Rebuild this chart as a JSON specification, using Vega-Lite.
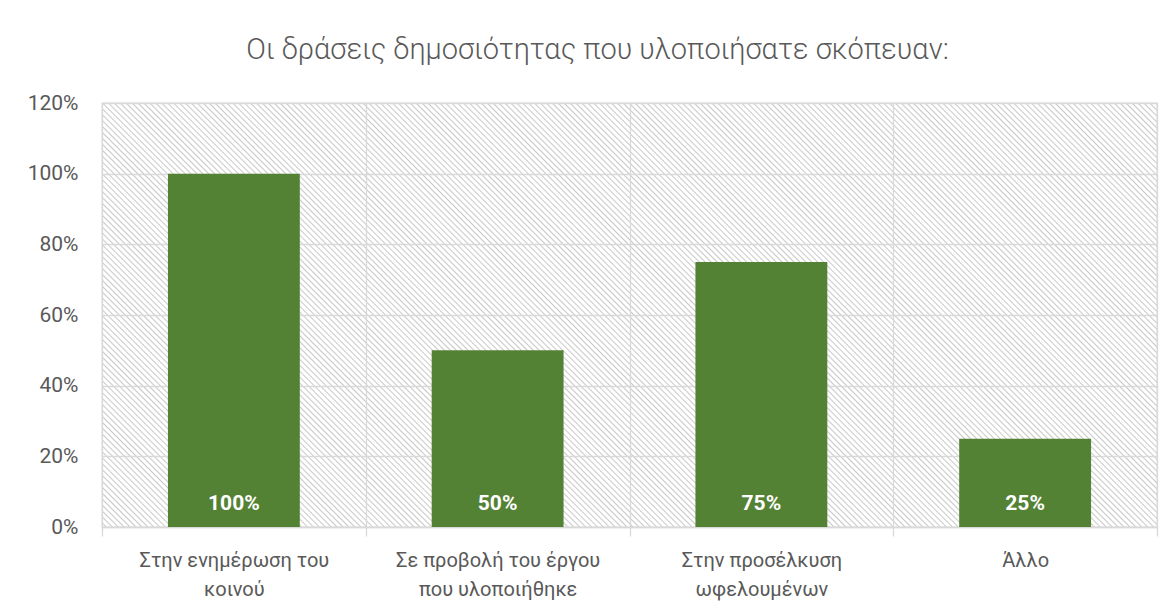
{
  "$schema": "https://vega.github.io/schema/vega-lite/v6.json",
  "width": 1055,
  "height": 424,
  "autosize": {"type": "none"},
  "padding": {"left": 102, "top": 103, "right": 16, "bottom": 85},
  "background": "white",
  "title": {
    "text": "Οι δράσεις δημοσιότητας που υλοποιήσατε σκόπευαν:",
    "font": "Roboto",
    "fontSize": 29,
    "fontWeight": 300,
    "color": "#595959",
    "anchor": "middle",
    "frame": "group",
    "dx": -32,
    "baseline": "alphabetic",
    "offset": 4
  },
  "data": {
    "values": [
      {"category": "Στην ενημέρωση του\nκοινού", "share": 1.0},
      {"category": "Σε προβολή του έργου\nπου υλοποιήθηκε", "share": 0.5},
      {"category": "Στην προσέλκυση\nωφελουμένων", "share": 0.75},
      {"category": "Άλλο", "share": 0.25}
    ]
  },
  "encoding": {
    "x": {
      "field": "category",
      "type": "nominal",
      "sort": null,
      "scale": {"padding": 0},
      "axis": {
        "title": null,
        "tickBand": "extent",
        "grid": true,
        "gridColor": "#d9d9d9",
        "gridWidth": 1.3,
        "domainColor": "#d9d9d9",
        "domainWidth": 1.3,
        "tickColor": "#d9d9d9",
        "tickWidth": 1.3,
        "tickSize": 9,
        "labelAngle": 0,
        "labelFont": "Roboto",
        "labelFontSize": 20,
        "labelColor": "#595959",
        "labelPadding": 14,
        "labelLimit": 0,
        "labelLineHeight": 29,
        "labelBaseline": "top",
        "labelExpr": "split(datum.label, '\\n')"
      }
    }
  },
  "layer": [
    {
      "mark": {"type": "bar", "color": "#548235", "width": {"band": 0.5}},
      "encoding": {
        "y": {
          "field": "share",
          "type": "quantitative",
          "scale": {"domain": [0, 1.2]},
          "axis": {
            "title": null,
            "values": [0, 0.2, 0.4, 0.6, 0.8, 1, 1.2],
            "format": ".0%",
            "domain": false,
            "ticks": false,
            "labelPadding": 24,
            "labelFont": "Roboto",
            "labelFontSize": 21,
            "labelColor": "#595959",
            "gridColor": "#d9d9d9",
            "gridWidth": 1.3
          }
        }
      }
    },
    {
      "mark": {
        "type": "text",
        "color": "#ffffff",
        "font": "Roboto",
        "fontWeight": "bold",
        "fontSize": 21,
        "baseline": "alphabetic",
        "dy": -17
      },
      "encoding": {
        "y": {"datum": 0, "type": "quantitative"},
        "text": {"field": "share", "type": "quantitative", "format": ".0%"}
      }
    }
  ],
  "config": {
    "view": {
      "stroke": "#d9d9d9",
      "strokeWidth": 1.3,
      "fill": {
        "gradient": "linear",
        "x1": 0, "y1": 1, "x2": 1.207, "y2": 0.5149,
        "stops": [
{"offset":0.000,"color":"#fff"},{"offset":0.002,"color":"#fff"},{"offset":0.003,"color":"#c9c9c9"},{"offset":0.004,"color":"#fff"},{"offset":0.006,"color":"#fff"},{"offset":0.007,"color":"#c9c9c9"},{"offset":0.008,"color":"#fff"},{"offset":0.010,"color":"#fff"},{"offset":0.011,"color":"#c9c9c9"},{"offset":0.012,"color":"#fff"},{"offset":0.014,"color":"#fff"},{"offset":0.015,"color":"#c9c9c9"},{"offset":0.016,"color":"#fff"},{"offset":0.018,"color":"#fff"},{"offset":0.019,"color":"#c9c9c9"},
{"offset":0.020,"color":"#fff"},{"offset":0.022,"color":"#fff"},{"offset":0.023,"color":"#c9c9c9"},{"offset":0.024,"color":"#fff"},{"offset":0.026,"color":"#fff"},{"offset":0.027,"color":"#c9c9c9"},{"offset":0.028,"color":"#fff"},{"offset":0.030,"color":"#fff"},{"offset":0.031,"color":"#c9c9c9"},{"offset":0.032,"color":"#fff"},{"offset":0.034,"color":"#fff"},{"offset":0.035,"color":"#c9c9c9"},{"offset":0.036,"color":"#fff"},{"offset":0.038,"color":"#fff"},{"offset":0.039,"color":"#c9c9c9"},
{"offset":0.040,"color":"#fff"},{"offset":0.042,"color":"#fff"},{"offset":0.043,"color":"#c9c9c9"},{"offset":0.044,"color":"#fff"},{"offset":0.046,"color":"#fff"},{"offset":0.047,"color":"#c9c9c9"},{"offset":0.048,"color":"#fff"},{"offset":0.050,"color":"#fff"},{"offset":0.051,"color":"#c9c9c9"},{"offset":0.052,"color":"#fff"},{"offset":0.054,"color":"#fff"},{"offset":0.055,"color":"#c9c9c9"},{"offset":0.056,"color":"#fff"},{"offset":0.058,"color":"#fff"},{"offset":0.059,"color":"#c9c9c9"},
{"offset":0.060,"color":"#fff"},{"offset":0.062,"color":"#fff"},{"offset":0.063,"color":"#c9c9c9"},{"offset":0.064,"color":"#fff"},{"offset":0.066,"color":"#fff"},{"offset":0.067,"color":"#c9c9c9"},{"offset":0.068,"color":"#fff"},{"offset":0.070,"color":"#fff"},{"offset":0.071,"color":"#c9c9c9"},{"offset":0.072,"color":"#fff"},{"offset":0.074,"color":"#fff"},{"offset":0.075,"color":"#c9c9c9"},{"offset":0.076,"color":"#fff"},{"offset":0.078,"color":"#fff"},{"offset":0.079,"color":"#c9c9c9"},
{"offset":0.080,"color":"#fff"},{"offset":0.082,"color":"#fff"},{"offset":0.083,"color":"#c9c9c9"},{"offset":0.084,"color":"#fff"},{"offset":0.086,"color":"#fff"},{"offset":0.087,"color":"#c9c9c9"},{"offset":0.088,"color":"#fff"},{"offset":0.090,"color":"#fff"},{"offset":0.091,"color":"#c9c9c9"},{"offset":0.092,"color":"#fff"},{"offset":0.094,"color":"#fff"},{"offset":0.095,"color":"#c9c9c9"},{"offset":0.096,"color":"#fff"},{"offset":0.098,"color":"#fff"},{"offset":0.099,"color":"#c9c9c9"},
{"offset":0.100,"color":"#fff"},{"offset":0.102,"color":"#fff"},{"offset":0.103,"color":"#c9c9c9"},{"offset":0.104,"color":"#fff"},{"offset":0.106,"color":"#fff"},{"offset":0.107,"color":"#c9c9c9"},{"offset":0.108,"color":"#fff"},{"offset":0.110,"color":"#fff"},{"offset":0.111,"color":"#c9c9c9"},{"offset":0.112,"color":"#fff"},{"offset":0.114,"color":"#fff"},{"offset":0.115,"color":"#c9c9c9"},{"offset":0.116,"color":"#fff"},{"offset":0.118,"color":"#fff"},{"offset":0.119,"color":"#c9c9c9"},
{"offset":0.120,"color":"#fff"},{"offset":0.122,"color":"#fff"},{"offset":0.123,"color":"#c9c9c9"},{"offset":0.124,"color":"#fff"},{"offset":0.126,"color":"#fff"},{"offset":0.127,"color":"#c9c9c9"},{"offset":0.128,"color":"#fff"},{"offset":0.130,"color":"#fff"},{"offset":0.131,"color":"#c9c9c9"},{"offset":0.132,"color":"#fff"},{"offset":0.134,"color":"#fff"},{"offset":0.135,"color":"#c9c9c9"},{"offset":0.136,"color":"#fff"},{"offset":0.138,"color":"#fff"},{"offset":0.139,"color":"#c9c9c9"},
{"offset":0.140,"color":"#fff"},{"offset":0.142,"color":"#fff"},{"offset":0.143,"color":"#c9c9c9"},{"offset":0.144,"color":"#fff"},{"offset":0.146,"color":"#fff"},{"offset":0.147,"color":"#c9c9c9"},{"offset":0.148,"color":"#fff"},{"offset":0.150,"color":"#fff"},{"offset":0.151,"color":"#c9c9c9"},{"offset":0.152,"color":"#fff"},{"offset":0.154,"color":"#fff"},{"offset":0.155,"color":"#c9c9c9"},{"offset":0.156,"color":"#fff"},{"offset":0.158,"color":"#fff"},{"offset":0.159,"color":"#c9c9c9"},
{"offset":0.160,"color":"#fff"},{"offset":0.162,"color":"#fff"},{"offset":0.163,"color":"#c9c9c9"},{"offset":0.164,"color":"#fff"},{"offset":0.166,"color":"#fff"},{"offset":0.167,"color":"#c9c9c9"},{"offset":0.168,"color":"#fff"},{"offset":0.170,"color":"#fff"},{"offset":0.171,"color":"#c9c9c9"},{"offset":0.172,"color":"#fff"},{"offset":0.174,"color":"#fff"},{"offset":0.175,"color":"#c9c9c9"},{"offset":0.176,"color":"#fff"},{"offset":0.178,"color":"#fff"},{"offset":0.179,"color":"#c9c9c9"},
{"offset":0.180,"color":"#fff"},{"offset":0.182,"color":"#fff"},{"offset":0.183,"color":"#c9c9c9"},{"offset":0.184,"color":"#fff"},{"offset":0.186,"color":"#fff"},{"offset":0.187,"color":"#c9c9c9"},{"offset":0.188,"color":"#fff"},{"offset":0.190,"color":"#fff"},{"offset":0.191,"color":"#c9c9c9"},{"offset":0.192,"color":"#fff"},{"offset":0.194,"color":"#fff"},{"offset":0.195,"color":"#c9c9c9"},{"offset":0.196,"color":"#fff"},{"offset":0.198,"color":"#fff"},{"offset":0.199,"color":"#c9c9c9"},
{"offset":0.200,"color":"#fff"},{"offset":0.202,"color":"#fff"},{"offset":0.203,"color":"#c9c9c9"},{"offset":0.204,"color":"#fff"},{"offset":0.206,"color":"#fff"},{"offset":0.207,"color":"#c9c9c9"},{"offset":0.208,"color":"#fff"},{"offset":0.210,"color":"#fff"},{"offset":0.211,"color":"#c9c9c9"},{"offset":0.212,"color":"#fff"},{"offset":0.214,"color":"#fff"},{"offset":0.215,"color":"#c9c9c9"},{"offset":0.216,"color":"#fff"},{"offset":0.218,"color":"#fff"},{"offset":0.219,"color":"#c9c9c9"},
{"offset":0.220,"color":"#fff"},{"offset":0.222,"color":"#fff"},{"offset":0.223,"color":"#c9c9c9"},{"offset":0.224,"color":"#fff"},{"offset":0.226,"color":"#fff"},{"offset":0.227,"color":"#c9c9c9"},{"offset":0.228,"color":"#fff"},{"offset":0.230,"color":"#fff"},{"offset":0.231,"color":"#c9c9c9"},{"offset":0.232,"color":"#fff"},{"offset":0.234,"color":"#fff"},{"offset":0.235,"color":"#c9c9c9"},{"offset":0.236,"color":"#fff"},{"offset":0.238,"color":"#fff"},{"offset":0.239,"color":"#c9c9c9"},
{"offset":0.240,"color":"#fff"},{"offset":0.242,"color":"#fff"},{"offset":0.243,"color":"#c9c9c9"},{"offset":0.244,"color":"#fff"},{"offset":0.246,"color":"#fff"},{"offset":0.247,"color":"#c9c9c9"},{"offset":0.248,"color":"#fff"},{"offset":0.250,"color":"#fff"},{"offset":0.251,"color":"#c9c9c9"},{"offset":0.252,"color":"#fff"},{"offset":0.254,"color":"#fff"},{"offset":0.255,"color":"#c9c9c9"},{"offset":0.256,"color":"#fff"},{"offset":0.258,"color":"#fff"},{"offset":0.259,"color":"#c9c9c9"},
{"offset":0.260,"color":"#fff"},{"offset":0.262,"color":"#fff"},{"offset":0.263,"color":"#c9c9c9"},{"offset":0.264,"color":"#fff"},{"offset":0.266,"color":"#fff"},{"offset":0.267,"color":"#c9c9c9"},{"offset":0.268,"color":"#fff"},{"offset":0.270,"color":"#fff"},{"offset":0.271,"color":"#c9c9c9"},{"offset":0.272,"color":"#fff"},{"offset":0.274,"color":"#fff"},{"offset":0.275,"color":"#c9c9c9"},{"offset":0.276,"color":"#fff"},{"offset":0.278,"color":"#fff"},{"offset":0.279,"color":"#c9c9c9"},
{"offset":0.280,"color":"#fff"},{"offset":0.282,"color":"#fff"},{"offset":0.283,"color":"#c9c9c9"},{"offset":0.284,"color":"#fff"},{"offset":0.286,"color":"#fff"},{"offset":0.287,"color":"#c9c9c9"},{"offset":0.288,"color":"#fff"},{"offset":0.290,"color":"#fff"},{"offset":0.291,"color":"#c9c9c9"},{"offset":0.292,"color":"#fff"},{"offset":0.294,"color":"#fff"},{"offset":0.295,"color":"#c9c9c9"},{"offset":0.296,"color":"#fff"},{"offset":0.298,"color":"#fff"},{"offset":0.299,"color":"#c9c9c9"},
{"offset":0.300,"color":"#fff"},{"offset":0.302,"color":"#fff"},{"offset":0.303,"color":"#c9c9c9"},{"offset":0.304,"color":"#fff"},{"offset":0.306,"color":"#fff"},{"offset":0.307,"color":"#c9c9c9"},{"offset":0.308,"color":"#fff"},{"offset":0.310,"color":"#fff"},{"offset":0.311,"color":"#c9c9c9"},{"offset":0.312,"color":"#fff"},{"offset":0.314,"color":"#fff"},{"offset":0.315,"color":"#c9c9c9"},{"offset":0.316,"color":"#fff"},{"offset":0.318,"color":"#fff"},{"offset":0.319,"color":"#c9c9c9"},
{"offset":0.320,"color":"#fff"},{"offset":0.322,"color":"#fff"},{"offset":0.323,"color":"#c9c9c9"},{"offset":0.324,"color":"#fff"},{"offset":0.326,"color":"#fff"},{"offset":0.327,"color":"#c9c9c9"},{"offset":0.328,"color":"#fff"},{"offset":0.330,"color":"#fff"},{"offset":0.331,"color":"#c9c9c9"},{"offset":0.332,"color":"#fff"},{"offset":0.334,"color":"#fff"},{"offset":0.335,"color":"#c9c9c9"},{"offset":0.336,"color":"#fff"},{"offset":0.338,"color":"#fff"},{"offset":0.339,"color":"#c9c9c9"},
{"offset":0.340,"color":"#fff"},{"offset":0.342,"color":"#fff"},{"offset":0.343,"color":"#c9c9c9"},{"offset":0.344,"color":"#fff"},{"offset":0.346,"color":"#fff"},{"offset":0.347,"color":"#c9c9c9"},{"offset":0.348,"color":"#fff"},{"offset":0.350,"color":"#fff"},{"offset":0.351,"color":"#c9c9c9"},{"offset":0.352,"color":"#fff"},{"offset":0.354,"color":"#fff"},{"offset":0.355,"color":"#c9c9c9"},{"offset":0.356,"color":"#fff"},{"offset":0.358,"color":"#fff"},{"offset":0.359,"color":"#c9c9c9"},
{"offset":0.360,"color":"#fff"},{"offset":0.362,"color":"#fff"},{"offset":0.363,"color":"#c9c9c9"},{"offset":0.364,"color":"#fff"},{"offset":0.366,"color":"#fff"},{"offset":0.367,"color":"#c9c9c9"},{"offset":0.368,"color":"#fff"},{"offset":0.370,"color":"#fff"},{"offset":0.371,"color":"#c9c9c9"},{"offset":0.372,"color":"#fff"},{"offset":0.374,"color":"#fff"},{"offset":0.375,"color":"#c9c9c9"},{"offset":0.376,"color":"#fff"},{"offset":0.378,"color":"#fff"},{"offset":0.379,"color":"#c9c9c9"},
{"offset":0.380,"color":"#fff"},{"offset":0.382,"color":"#fff"},{"offset":0.383,"color":"#c9c9c9"},{"offset":0.384,"color":"#fff"},{"offset":0.386,"color":"#fff"},{"offset":0.387,"color":"#c9c9c9"},{"offset":0.388,"color":"#fff"},{"offset":0.390,"color":"#fff"},{"offset":0.391,"color":"#c9c9c9"},{"offset":0.392,"color":"#fff"},{"offset":0.394,"color":"#fff"},{"offset":0.395,"color":"#c9c9c9"},{"offset":0.396,"color":"#fff"},{"offset":0.398,"color":"#fff"},{"offset":0.399,"color":"#c9c9c9"},
{"offset":0.400,"color":"#fff"},{"offset":0.402,"color":"#fff"},{"offset":0.403,"color":"#c9c9c9"},{"offset":0.404,"color":"#fff"},{"offset":0.406,"color":"#fff"},{"offset":0.407,"color":"#c9c9c9"},{"offset":0.408,"color":"#fff"},{"offset":0.410,"color":"#fff"},{"offset":0.411,"color":"#c9c9c9"},{"offset":0.412,"color":"#fff"},{"offset":0.414,"color":"#fff"},{"offset":0.415,"color":"#c9c9c9"},{"offset":0.416,"color":"#fff"},{"offset":0.418,"color":"#fff"},{"offset":0.419,"color":"#c9c9c9"},
{"offset":0.420,"color":"#fff"},{"offset":0.422,"color":"#fff"},{"offset":0.423,"color":"#c9c9c9"},{"offset":0.424,"color":"#fff"},{"offset":0.426,"color":"#fff"},{"offset":0.427,"color":"#c9c9c9"},{"offset":0.428,"color":"#fff"},{"offset":0.430,"color":"#fff"},{"offset":0.431,"color":"#c9c9c9"},{"offset":0.432,"color":"#fff"},{"offset":0.434,"color":"#fff"},{"offset":0.435,"color":"#c9c9c9"},{"offset":0.436,"color":"#fff"},{"offset":0.438,"color":"#fff"},{"offset":0.439,"color":"#c9c9c9"},
{"offset":0.440,"color":"#fff"},{"offset":0.442,"color":"#fff"},{"offset":0.443,"color":"#c9c9c9"},{"offset":0.444,"color":"#fff"},{"offset":0.446,"color":"#fff"},{"offset":0.447,"color":"#c9c9c9"},{"offset":0.448,"color":"#fff"},{"offset":0.450,"color":"#fff"},{"offset":0.451,"color":"#c9c9c9"},{"offset":0.452,"color":"#fff"},{"offset":0.454,"color":"#fff"},{"offset":0.455,"color":"#c9c9c9"},{"offset":0.456,"color":"#fff"},{"offset":0.458,"color":"#fff"},{"offset":0.459,"color":"#c9c9c9"},
{"offset":0.460,"color":"#fff"},{"offset":0.462,"color":"#fff"},{"offset":0.463,"color":"#c9c9c9"},{"offset":0.464,"color":"#fff"},{"offset":0.466,"color":"#fff"},{"offset":0.467,"color":"#c9c9c9"},{"offset":0.468,"color":"#fff"},{"offset":0.470,"color":"#fff"},{"offset":0.471,"color":"#c9c9c9"},{"offset":0.472,"color":"#fff"},{"offset":0.474,"color":"#fff"},{"offset":0.475,"color":"#c9c9c9"},{"offset":0.476,"color":"#fff"},{"offset":0.478,"color":"#fff"},{"offset":0.479,"color":"#c9c9c9"},
{"offset":0.480,"color":"#fff"},{"offset":0.482,"color":"#fff"},{"offset":0.483,"color":"#c9c9c9"},{"offset":0.484,"color":"#fff"},{"offset":0.486,"color":"#fff"},{"offset":0.487,"color":"#c9c9c9"},{"offset":0.488,"color":"#fff"},{"offset":0.490,"color":"#fff"},{"offset":0.491,"color":"#c9c9c9"},{"offset":0.492,"color":"#fff"},{"offset":0.494,"color":"#fff"},{"offset":0.495,"color":"#c9c9c9"},{"offset":0.496,"color":"#fff"},{"offset":0.498,"color":"#fff"},{"offset":0.499,"color":"#c9c9c9"},
{"offset":0.500,"color":"#fff"},{"offset":0.502,"color":"#fff"},{"offset":0.503,"color":"#c9c9c9"},{"offset":0.504,"color":"#fff"},{"offset":0.506,"color":"#fff"},{"offset":0.507,"color":"#c9c9c9"},{"offset":0.508,"color":"#fff"},{"offset":0.510,"color":"#fff"},{"offset":0.511,"color":"#c9c9c9"},{"offset":0.512,"color":"#fff"},{"offset":0.514,"color":"#fff"},{"offset":0.515,"color":"#c9c9c9"},{"offset":0.516,"color":"#fff"},{"offset":0.518,"color":"#fff"},{"offset":0.519,"color":"#c9c9c9"},
{"offset":0.520,"color":"#fff"},{"offset":0.522,"color":"#fff"},{"offset":0.523,"color":"#c9c9c9"},{"offset":0.524,"color":"#fff"},{"offset":0.526,"color":"#fff"},{"offset":0.527,"color":"#c9c9c9"},{"offset":0.528,"color":"#fff"},{"offset":0.530,"color":"#fff"},{"offset":0.531,"color":"#c9c9c9"},{"offset":0.532,"color":"#fff"},{"offset":0.534,"color":"#fff"},{"offset":0.535,"color":"#c9c9c9"},{"offset":0.536,"color":"#fff"},{"offset":0.538,"color":"#fff"},{"offset":0.539,"color":"#c9c9c9"},
{"offset":0.540,"color":"#fff"},{"offset":0.542,"color":"#fff"},{"offset":0.543,"color":"#c9c9c9"},{"offset":0.544,"color":"#fff"},{"offset":0.546,"color":"#fff"},{"offset":0.547,"color":"#c9c9c9"},{"offset":0.548,"color":"#fff"},{"offset":0.550,"color":"#fff"},{"offset":0.551,"color":"#c9c9c9"},{"offset":0.552,"color":"#fff"},{"offset":0.554,"color":"#fff"},{"offset":0.555,"color":"#c9c9c9"},{"offset":0.556,"color":"#fff"},{"offset":0.558,"color":"#fff"},{"offset":0.559,"color":"#c9c9c9"},
{"offset":0.560,"color":"#fff"},{"offset":0.562,"color":"#fff"},{"offset":0.563,"color":"#c9c9c9"},{"offset":0.564,"color":"#fff"},{"offset":0.566,"color":"#fff"},{"offset":0.567,"color":"#c9c9c9"},{"offset":0.568,"color":"#fff"},{"offset":0.570,"color":"#fff"},{"offset":0.571,"color":"#c9c9c9"},{"offset":0.572,"color":"#fff"},{"offset":0.574,"color":"#fff"},{"offset":0.575,"color":"#c9c9c9"},{"offset":0.576,"color":"#fff"},{"offset":0.578,"color":"#fff"},{"offset":0.579,"color":"#c9c9c9"},
{"offset":0.580,"color":"#fff"},{"offset":0.582,"color":"#fff"},{"offset":0.583,"color":"#c9c9c9"},{"offset":0.584,"color":"#fff"},{"offset":0.586,"color":"#fff"},{"offset":0.587,"color":"#c9c9c9"},{"offset":0.588,"color":"#fff"},{"offset":0.590,"color":"#fff"},{"offset":0.591,"color":"#c9c9c9"},{"offset":0.592,"color":"#fff"},{"offset":0.594,"color":"#fff"},{"offset":0.595,"color":"#c9c9c9"},{"offset":0.596,"color":"#fff"},{"offset":0.598,"color":"#fff"},{"offset":0.599,"color":"#c9c9c9"},
{"offset":0.600,"color":"#fff"},{"offset":0.602,"color":"#fff"},{"offset":0.603,"color":"#c9c9c9"},{"offset":0.604,"color":"#fff"},{"offset":0.606,"color":"#fff"},{"offset":0.607,"color":"#c9c9c9"},{"offset":0.608,"color":"#fff"},{"offset":0.610,"color":"#fff"},{"offset":0.611,"color":"#c9c9c9"},{"offset":0.612,"color":"#fff"},{"offset":0.614,"color":"#fff"},{"offset":0.615,"color":"#c9c9c9"},{"offset":0.616,"color":"#fff"},{"offset":0.618,"color":"#fff"},{"offset":0.619,"color":"#c9c9c9"},
{"offset":0.620,"color":"#fff"},{"offset":0.622,"color":"#fff"},{"offset":0.623,"color":"#c9c9c9"},{"offset":0.624,"color":"#fff"},{"offset":0.626,"color":"#fff"},{"offset":0.627,"color":"#c9c9c9"},{"offset":0.628,"color":"#fff"},{"offset":0.630,"color":"#fff"},{"offset":0.631,"color":"#c9c9c9"},{"offset":0.632,"color":"#fff"},{"offset":0.634,"color":"#fff"},{"offset":0.635,"color":"#c9c9c9"},{"offset":0.636,"color":"#fff"},{"offset":0.638,"color":"#fff"},{"offset":0.639,"color":"#c9c9c9"},
{"offset":0.640,"color":"#fff"},{"offset":0.642,"color":"#fff"},{"offset":0.643,"color":"#c9c9c9"},{"offset":0.644,"color":"#fff"},{"offset":0.646,"color":"#fff"},{"offset":0.647,"color":"#c9c9c9"},{"offset":0.648,"color":"#fff"},{"offset":0.650,"color":"#fff"},{"offset":0.651,"color":"#c9c9c9"},{"offset":0.652,"color":"#fff"},{"offset":0.654,"color":"#fff"},{"offset":0.655,"color":"#c9c9c9"},{"offset":0.656,"color":"#fff"},{"offset":0.658,"color":"#fff"},{"offset":0.659,"color":"#c9c9c9"},
{"offset":0.660,"color":"#fff"},{"offset":0.662,"color":"#fff"},{"offset":0.663,"color":"#c9c9c9"},{"offset":0.664,"color":"#fff"},{"offset":0.666,"color":"#fff"},{"offset":0.667,"color":"#c9c9c9"},{"offset":0.668,"color":"#fff"},{"offset":0.670,"color":"#fff"},{"offset":0.671,"color":"#c9c9c9"},{"offset":0.672,"color":"#fff"},{"offset":0.674,"color":"#fff"},{"offset":0.675,"color":"#c9c9c9"},{"offset":0.676,"color":"#fff"},{"offset":0.678,"color":"#fff"},{"offset":0.679,"color":"#c9c9c9"},
{"offset":0.680,"color":"#fff"},{"offset":0.682,"color":"#fff"},{"offset":0.683,"color":"#c9c9c9"},{"offset":0.684,"color":"#fff"},{"offset":0.686,"color":"#fff"},{"offset":0.687,"color":"#c9c9c9"},{"offset":0.688,"color":"#fff"},{"offset":0.690,"color":"#fff"},{"offset":0.691,"color":"#c9c9c9"},{"offset":0.692,"color":"#fff"},{"offset":0.694,"color":"#fff"},{"offset":0.695,"color":"#c9c9c9"},{"offset":0.696,"color":"#fff"},{"offset":0.698,"color":"#fff"},{"offset":0.699,"color":"#c9c9c9"},
{"offset":0.700,"color":"#fff"},{"offset":0.702,"color":"#fff"},{"offset":0.703,"color":"#c9c9c9"},{"offset":0.704,"color":"#fff"},{"offset":0.706,"color":"#fff"},{"offset":0.707,"color":"#c9c9c9"},{"offset":0.708,"color":"#fff"},{"offset":0.710,"color":"#fff"},{"offset":0.711,"color":"#c9c9c9"},{"offset":0.712,"color":"#fff"},{"offset":0.714,"color":"#fff"},{"offset":0.715,"color":"#c9c9c9"},{"offset":0.716,"color":"#fff"},{"offset":0.718,"color":"#fff"},{"offset":0.719,"color":"#c9c9c9"},
{"offset":0.720,"color":"#fff"},{"offset":0.722,"color":"#fff"},{"offset":0.723,"color":"#c9c9c9"},{"offset":0.724,"color":"#fff"},{"offset":0.726,"color":"#fff"},{"offset":0.727,"color":"#c9c9c9"},{"offset":0.728,"color":"#fff"},{"offset":0.730,"color":"#fff"},{"offset":0.731,"color":"#c9c9c9"},{"offset":0.732,"color":"#fff"},{"offset":0.734,"color":"#fff"},{"offset":0.735,"color":"#c9c9c9"},{"offset":0.736,"color":"#fff"},{"offset":0.738,"color":"#fff"},{"offset":0.739,"color":"#c9c9c9"},
{"offset":0.740,"color":"#fff"},{"offset":0.742,"color":"#fff"},{"offset":0.743,"color":"#c9c9c9"},{"offset":0.744,"color":"#fff"},{"offset":0.746,"color":"#fff"},{"offset":0.747,"color":"#c9c9c9"},{"offset":0.748,"color":"#fff"},{"offset":0.750,"color":"#fff"},{"offset":0.751,"color":"#c9c9c9"},{"offset":0.752,"color":"#fff"},{"offset":0.754,"color":"#fff"},{"offset":0.755,"color":"#c9c9c9"},{"offset":0.756,"color":"#fff"},{"offset":0.758,"color":"#fff"},{"offset":0.759,"color":"#c9c9c9"},
{"offset":0.760,"color":"#fff"},{"offset":0.762,"color":"#fff"},{"offset":0.763,"color":"#c9c9c9"},{"offset":0.764,"color":"#fff"},{"offset":0.766,"color":"#fff"},{"offset":0.767,"color":"#c9c9c9"},{"offset":0.768,"color":"#fff"},{"offset":0.770,"color":"#fff"},{"offset":0.771,"color":"#c9c9c9"},{"offset":0.772,"color":"#fff"},{"offset":0.774,"color":"#fff"},{"offset":0.775,"color":"#c9c9c9"},{"offset":0.776,"color":"#fff"},{"offset":0.778,"color":"#fff"},{"offset":0.779,"color":"#c9c9c9"},
{"offset":0.780,"color":"#fff"},{"offset":0.782,"color":"#fff"},{"offset":0.783,"color":"#c9c9c9"},{"offset":0.784,"color":"#fff"},{"offset":0.786,"color":"#fff"},{"offset":0.787,"color":"#c9c9c9"},{"offset":0.788,"color":"#fff"},{"offset":0.790,"color":"#fff"},{"offset":0.791,"color":"#c9c9c9"},{"offset":0.792,"color":"#fff"},{"offset":0.794,"color":"#fff"},{"offset":0.795,"color":"#c9c9c9"},{"offset":0.796,"color":"#fff"},{"offset":0.798,"color":"#fff"},{"offset":0.799,"color":"#c9c9c9"},
{"offset":0.800,"color":"#fff"},{"offset":0.802,"color":"#fff"},{"offset":0.803,"color":"#c9c9c9"},{"offset":0.804,"color":"#fff"},{"offset":0.806,"color":"#fff"},{"offset":0.807,"color":"#c9c9c9"},{"offset":0.808,"color":"#fff"},{"offset":0.810,"color":"#fff"},{"offset":0.811,"color":"#c9c9c9"},{"offset":0.812,"color":"#fff"},{"offset":0.814,"color":"#fff"},{"offset":0.815,"color":"#c9c9c9"},{"offset":0.816,"color":"#fff"},{"offset":0.818,"color":"#fff"},{"offset":0.819,"color":"#c9c9c9"},
{"offset":0.820,"color":"#fff"},{"offset":0.822,"color":"#fff"},{"offset":0.823,"color":"#c9c9c9"},{"offset":0.824,"color":"#fff"},{"offset":0.826,"color":"#fff"},{"offset":0.827,"color":"#c9c9c9"},{"offset":0.828,"color":"#fff"},{"offset":0.830,"color":"#fff"},{"offset":0.831,"color":"#c9c9c9"},{"offset":0.832,"color":"#fff"},{"offset":0.834,"color":"#fff"},{"offset":0.835,"color":"#c9c9c9"},{"offset":0.836,"color":"#fff"},{"offset":0.838,"color":"#fff"},{"offset":0.839,"color":"#c9c9c9"},
{"offset":0.840,"color":"#fff"},{"offset":0.842,"color":"#fff"},{"offset":0.843,"color":"#c9c9c9"},{"offset":0.844,"color":"#fff"},{"offset":0.846,"color":"#fff"},{"offset":0.847,"color":"#c9c9c9"},{"offset":0.848,"color":"#fff"},{"offset":0.850,"color":"#fff"},{"offset":0.851,"color":"#c9c9c9"},{"offset":0.852,"color":"#fff"},{"offset":0.854,"color":"#fff"},{"offset":0.855,"color":"#c9c9c9"},{"offset":0.856,"color":"#fff"},{"offset":0.858,"color":"#fff"},{"offset":0.859,"color":"#c9c9c9"},
{"offset":0.860,"color":"#fff"},{"offset":0.862,"color":"#fff"},{"offset":0.863,"color":"#c9c9c9"},{"offset":0.864,"color":"#fff"},{"offset":0.866,"color":"#fff"},{"offset":0.867,"color":"#c9c9c9"},{"offset":0.868,"color":"#fff"},{"offset":0.870,"color":"#fff"},{"offset":0.871,"color":"#c9c9c9"},{"offset":0.872,"color":"#fff"},{"offset":0.874,"color":"#fff"},{"offset":0.875,"color":"#c9c9c9"},{"offset":0.876,"color":"#fff"},{"offset":0.878,"color":"#fff"},{"offset":0.879,"color":"#c9c9c9"},
{"offset":0.880,"color":"#fff"},{"offset":0.882,"color":"#fff"},{"offset":0.883,"color":"#c9c9c9"},{"offset":0.884,"color":"#fff"},{"offset":0.886,"color":"#fff"},{"offset":0.887,"color":"#c9c9c9"},{"offset":0.888,"color":"#fff"},{"offset":0.890,"color":"#fff"},{"offset":0.891,"color":"#c9c9c9"},{"offset":0.892,"color":"#fff"},{"offset":0.894,"color":"#fff"},{"offset":0.895,"color":"#c9c9c9"},{"offset":0.896,"color":"#fff"},{"offset":0.898,"color":"#fff"},{"offset":0.899,"color":"#c9c9c9"},
{"offset":0.900,"color":"#fff"},{"offset":0.902,"color":"#fff"},{"offset":0.903,"color":"#c9c9c9"},{"offset":0.904,"color":"#fff"},{"offset":0.906,"color":"#fff"},{"offset":0.907,"color":"#c9c9c9"},{"offset":0.908,"color":"#fff"},{"offset":0.910,"color":"#fff"},{"offset":0.911,"color":"#c9c9c9"},{"offset":0.912,"color":"#fff"},{"offset":0.914,"color":"#fff"},{"offset":0.915,"color":"#c9c9c9"},{"offset":0.916,"color":"#fff"},{"offset":0.918,"color":"#fff"},{"offset":0.919,"color":"#c9c9c9"},
{"offset":0.920,"color":"#fff"},{"offset":0.922,"color":"#fff"},{"offset":0.923,"color":"#c9c9c9"},{"offset":0.924,"color":"#fff"},{"offset":0.926,"color":"#fff"},{"offset":0.927,"color":"#c9c9c9"},{"offset":0.928,"color":"#fff"},{"offset":0.930,"color":"#fff"},{"offset":0.931,"color":"#c9c9c9"},{"offset":0.932,"color":"#fff"},{"offset":0.934,"color":"#fff"},{"offset":0.935,"color":"#c9c9c9"},{"offset":0.936,"color":"#fff"},{"offset":0.938,"color":"#fff"},{"offset":0.939,"color":"#c9c9c9"},
{"offset":0.940,"color":"#fff"},{"offset":0.942,"color":"#fff"},{"offset":0.943,"color":"#c9c9c9"},{"offset":0.944,"color":"#fff"},{"offset":0.946,"color":"#fff"},{"offset":0.947,"color":"#c9c9c9"},{"offset":0.948,"color":"#fff"},{"offset":0.950,"color":"#fff"},{"offset":0.951,"color":"#c9c9c9"},{"offset":0.952,"color":"#fff"},{"offset":0.954,"color":"#fff"},{"offset":0.955,"color":"#c9c9c9"},{"offset":0.956,"color":"#fff"},{"offset":0.958,"color":"#fff"},{"offset":0.959,"color":"#c9c9c9"},
{"offset":0.960,"color":"#fff"},{"offset":0.962,"color":"#fff"},{"offset":0.963,"color":"#c9c9c9"},{"offset":0.964,"color":"#fff"},{"offset":0.966,"color":"#fff"},{"offset":0.967,"color":"#c9c9c9"},{"offset":0.968,"color":"#fff"},{"offset":0.970,"color":"#fff"},{"offset":0.971,"color":"#c9c9c9"},{"offset":0.972,"color":"#fff"},{"offset":0.974,"color":"#fff"},{"offset":0.975,"color":"#c9c9c9"},{"offset":0.976,"color":"#fff"},{"offset":0.978,"color":"#fff"},{"offset":0.979,"color":"#c9c9c9"},
{"offset":0.980,"color":"#fff"},{"offset":0.982,"color":"#fff"},{"offset":0.983,"color":"#c9c9c9"},{"offset":0.984,"color":"#fff"},{"offset":0.986,"color":"#fff"},{"offset":0.987,"color":"#c9c9c9"},{"offset":0.988,"color":"#fff"},{"offset":0.990,"color":"#fff"},{"offset":0.991,"color":"#c9c9c9"},{"offset":0.992,"color":"#fff"},{"offset":0.994,"color":"#fff"},{"offset":0.995,"color":"#c9c9c9"},{"offset":0.996,"color":"#fff"},{"offset":0.998,"color":"#fff"},{"offset":0.999,"color":"#c9c9c9"},
{"offset":1.000,"color":"#fff"}
        ]
      }
    }
  }
}
